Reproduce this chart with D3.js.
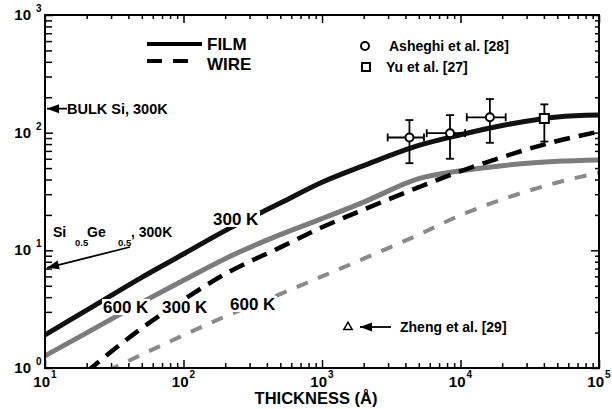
<!DOCTYPE html>
<html><head><meta charset="utf-8">
<script src="https://cdn.jsdelivr.net/npm/d3@7"></script>
<style>
body{margin:0;background:#fff}
text{font-family:"Liberation Sans",Arial,Helvetica,sans-serif;font-weight:bold;fill:#000}
</style>
</head><body>
<svg id="c" width="612" height="409"></svg>
<script>
// ---- data ----
const thickness = [10, 20, 50, 100, 200, 500, 1000, 2000, 5000, 10000, 20000, 50000, 100000];
const film300 = [1.91, 3.1, 5.9, 9.3, 14.7, 25.2, 37.9, 52.5, 78, 96, 115, 136, 141];
const film600 = [1.27, 1.99, 3.61, 5.56, 8.5, 13.6, 18.6, 25.7, 40.7, 47.5, 52.4, 57.1, 58.6];
const wire300 = [null, 0.93, 2.18, 3.8, 6.3, 10.6, 15.7, 22.2, 34.4, 47, 62, 85, 102];
const wire600 = [null, 0.78, 1.30, 1.9, 2.74, 4.25, 6.0, 8.5, 13.6, 19.9, 27.1, 37.7, 45.7];

const asheghiX = [4280, 8400, 16300];
const asheghiY = [91, 99, 135];
const asheghiXLo = [2980, 5700, 11100];
const asheghiXHi = [5450, 10800, 21200];
const asheghiYLo = [55, 60, 82];
const asheghiYHi = [128, 141, 193];

const yuX = [40300];
const yuY = [132];
const yuYLo = [84];
const yuYHi = [174];

const zhengX = [1540];
const zhengY = [2.23];

const bulkSi300 = 160;
const siGe300 = 7.1;

const xTickExps = [1, 2, 3, 4, 5];
const yTickExps = [0, 1, 2, 3];

// ---- layout ----
const svg = d3.select("#c");
const L = 45, R = 599, T = 15, B = 368;
const x = d3.scaleLog().domain([10, 1e5]).range([L, R]);
const y = d3.scaleLog().domain([1, 1000]).range([B, T]);

svg.append("defs").append("clipPath").attr("id", "clip")
  .append("rect").attr("x", L).attr("y", T).attr("width", R - L).attr("height", B - T);

// ---- ticks ----
function minorTicks(lo, hi) {
  const out = [];
  for (let e = lo; e < hi; e++) for (let m = 2; m <= 9; m++) out.push(m * Math.pow(10, e));
  return out;
}
const xMinor = minorTicks(1, 5), xMajor = xTickExps.map(e => Math.pow(10, e));
const yMinor = minorTicks(0, 3), yMajor = yTickExps.map(e => Math.pow(10, e));

function axisG(axis, tx, ty) {
  const g = svg.append("g").attr("transform", `translate(${tx},${ty})`).call(axis);
  g.selectAll("text").remove();
  g.select(".domain").remove();
  g.selectAll("line").attr("stroke", "#000").attr("stroke-width", 1.5);
  return g;
}
axisG(d3.axisBottom(x).tickValues(xMinor).tickSize(-5), 0, B);
axisG(d3.axisBottom(x).tickValues(xMajor).tickSize(-8), 0, B);
axisG(d3.axisTop(x).tickValues(xMinor).tickSize(-4), 0, T);
axisG(d3.axisTop(x).tickValues(xMajor).tickSize(-8), 0, T);
axisG(d3.axisLeft(y).tickValues(yMinor).tickSize(-7), L, 0);
axisG(d3.axisLeft(y).tickValues(yMajor).tickSize(-8), L, 0);
axisG(d3.axisRight(y).tickValues(yMinor).tickSize(-4), R, 0);
axisG(d3.axisRight(y).tickValues(yMajor).tickSize(-8), R, 0);

// ---- curves ----
const line = d3.line()
  .defined((d) => d[1] != null)
  .x(d => x(d[0])).y(d => y(d[1]))
  .curve(d3.curveMonotoneX);
const series = [
  {v: film600, color: "#7c7c7c", w: 5, dash: null},
  {v: wire600, color: "#8a8a8a", w: 4, dash: "12,11"},
  {v: wire300, color: "#000", w: 4.5, dash: "16,9"},
  {v: film300, color: "#111", w: 5, dash: null}
];
const cg = svg.append("g").attr("clip-path", "url(#clip)");
series.forEach(s => {
  cg.append("path")
    .datum(thickness.map((t, i) => [t, s.v[i]]))
    .attr("d", line)
    .attr("fill", "none")
    .attr("stroke", s.color)
    .attr("stroke-width", s.w)
    .attr("stroke-linecap", "butt")
    .attr("stroke-dasharray", s.dash);
});

// ---- curve labels with white backgrounds ----
function bgLabel(txt, px, py) {
  const g = svg.append("g");
  const t = g.append("text").attr("x", px).attr("y", py).attr("font-size", 17).text(txt);
  const bb = t.node().getBBox();
  g.insert("rect", "text").attr("x", bb.x - 1).attr("y", bb.y + 1)
    .attr("width", bb.width + 2).attr("height", bb.height - 3).attr("fill", "#fff");
}
bgLabel("300 K", 213, 225);
bgLabel("600 K", 103, 313);
bgLabel("300 K", 162, 313);
bgLabel("600 K", 230, 310);

// ---- frame ----
svg.append("rect").attr("x", L).attr("y", T).attr("width", R - L).attr("height", B - T)
  .attr("fill", "none").attr("stroke", "#000").attr("stroke-width", 2);

// ---- tick labels ----
xTickExps.forEach(e => {
  const px = x(Math.pow(10, e));
  svg.append("text").attr("x", px + 5).attr("y", 387).attr("text-anchor", "end")
    .attr("font-size", 15).text("10");
  svg.append("text").attr("x", px + 6).attr("y", 378).attr("font-size", 10).text(e);
});
yTickExps.forEach(e => {
  const py = y(Math.pow(10, e));
  svg.append("text").attr("x", 31).attr("y", py + 5).attr("text-anchor", "end")
    .attr("font-size", 15).text("10");
  svg.append("text").attr("x", 36).attr("y", py - 3).attr("font-size", 10).text(e);
});
svg.append("text").attr("x", 316).attr("y", 404).attr("text-anchor", "middle")
  .attr("font-size", 16.5).text("THICKNESS (Å)");

// ---- error bars & points ----
function errBars(xs, ys, yLo, yHi, xLo, xHi) {
  const g = svg.append("g").attr("stroke", "#000").attr("stroke-width", 1.8);
  xs.forEach((xv, i) => {
    const px = x(xv), py = y(ys[i]);
    g.append("line").attr("x1", px).attr("x2", px).attr("y1", y(yLo[i])).attr("y2", y(yHi[i]));
    g.append("line").attr("x1", px - 4).attr("x2", px + 4).attr("y1", y(yLo[i])).attr("y2", y(yLo[i]));
    g.append("line").attr("x1", px - 4).attr("x2", px + 4).attr("y1", y(yHi[i])).attr("y2", y(yHi[i]));
    if (xLo) {
      g.append("line").attr("x1", x(xLo[i])).attr("x2", x(xHi[i])).attr("y1", py).attr("y2", py);
      g.append("line").attr("x1", x(xLo[i])).attr("x2", x(xLo[i])).attr("y1", py - 4).attr("y2", py + 4);
      g.append("line").attr("x1", x(xHi[i])).attr("x2", x(xHi[i])).attr("y1", py - 4).attr("y2", py + 4);
    }
  });
}
errBars(asheghiX, asheghiY, asheghiYLo, asheghiYHi, asheghiXLo, asheghiXHi);
errBars(yuX, yuY, yuYLo, yuYHi, null, null);

asheghiX.forEach((xv, i) => {
  svg.append("circle").attr("cx", x(xv)).attr("cy", y(asheghiY[i])).attr("r", 4)
    .attr("fill", "#fff").attr("stroke", "#000").attr("stroke-width", 2);
});
yuX.forEach((xv, i) => {
  svg.append("rect").attr("x", x(xv) - 4.5).attr("y", y(yuY[i]) - 4.5).attr("width", 9).attr("height", 9)
    .attr("fill", "#fff").attr("stroke", "#000").attr("stroke-width", 2);
});
const tri = d3.symbol().type(d3.symbolTriangle).size(30);
zhengX.forEach((xv, i) => {
  svg.append("path").attr("d", tri).attr("transform", `translate(${x(xv)},${y(zhengY[i])})`)
    .attr("fill", "#fff").attr("stroke", "#000").attr("stroke-width", 1.5);
});

// ---- arrows ----
function arrow(x1, y1, x2, y2) {
  svg.append("line").attr("x1", x1).attr("y1", y1).attr("x2", x2).attr("y2", y2)
    .attr("stroke", "#000").attr("stroke-width", 1.8);
  const a = Math.atan2(y2 - y1, x2 - x1), len = 12, wd = 4.5;
  const bx = x2 - len * Math.cos(a), by = y2 - len * Math.sin(a);
  const nx = -Math.sin(a) * wd, ny = Math.cos(a) * wd;
  svg.append("path").attr("d", `M${x2},${y2}L${bx + nx},${by + ny}L${bx - nx},${by - ny}Z`).attr("fill", "#000");
}
arrow(67, y(bulkSi300), L + 2, y(bulkSi300));
svg.append("text").attr("x", 67).attr("y", y(bulkSi300) + 5).attr("font-size", 14.5).text("BULK Si, 300K");

arrow(130, 247, L + 2, y(siGe300));
const sg = svg.append("text").attr("font-size", 14);
sg.append("tspan").attr("x", 53).attr("y", 237).text("Si");
sg.append("tspan").attr("x", 75).attr("y", 246).attr("font-size", 9.5).text("0.5");
sg.append("tspan").attr("x", 87).attr("y", 237).text("Ge");
sg.append("tspan").attr("x", 118).attr("y", 246).attr("font-size", 9.5).text("0.5");
sg.append("tspan").attr("x", 131).attr("y", 237).text(", 300K");

const zy = y(zhengY[0]);
arrow(391, zy, 360, zy);
svg.append("text").attr("x", 400).attr("y", zy + 5).attr("font-size", 14).text("Zheng et al. [29]");

// ---- legends ----
svg.append("line").attr("x1", 147).attr("x2", 202).attr("y1", 44).attr("y2", 44)
  .attr("stroke", "#000").attr("stroke-width", 4);
svg.append("text").attr("x", 207).attr("y", 50).attr("font-size", 17).text("FILM");
svg.append("line").attr("x1", 147).attr("x2", 189).attr("y1", 61).attr("y2", 61)
  .attr("stroke", "#000").attr("stroke-width", 4).attr("stroke-dasharray", "15,11");
svg.append("text").attr("x", 207).attr("y", 70).attr("font-size", 17).text("WIRE");

svg.append("circle").attr("cx", 365).attr("cy", 46).attr("r", 4)
  .attr("fill", "#fff").attr("stroke", "#000").attr("stroke-width", 2);
svg.append("text").attr("x", 389).attr("y", 51).attr("font-size", 14).text("Asheghi et al. [28]");
svg.append("rect").attr("x", 362).attr("y", 63).attr("width", 8).attr("height", 8)
  .attr("fill", "#fff").attr("stroke", "#000").attr("stroke-width", 2);
svg.append("text").attr("x", 386).attr("y", 72).attr("font-size", 14).text("Yu et al. [27]");
</script>
</body></html>
